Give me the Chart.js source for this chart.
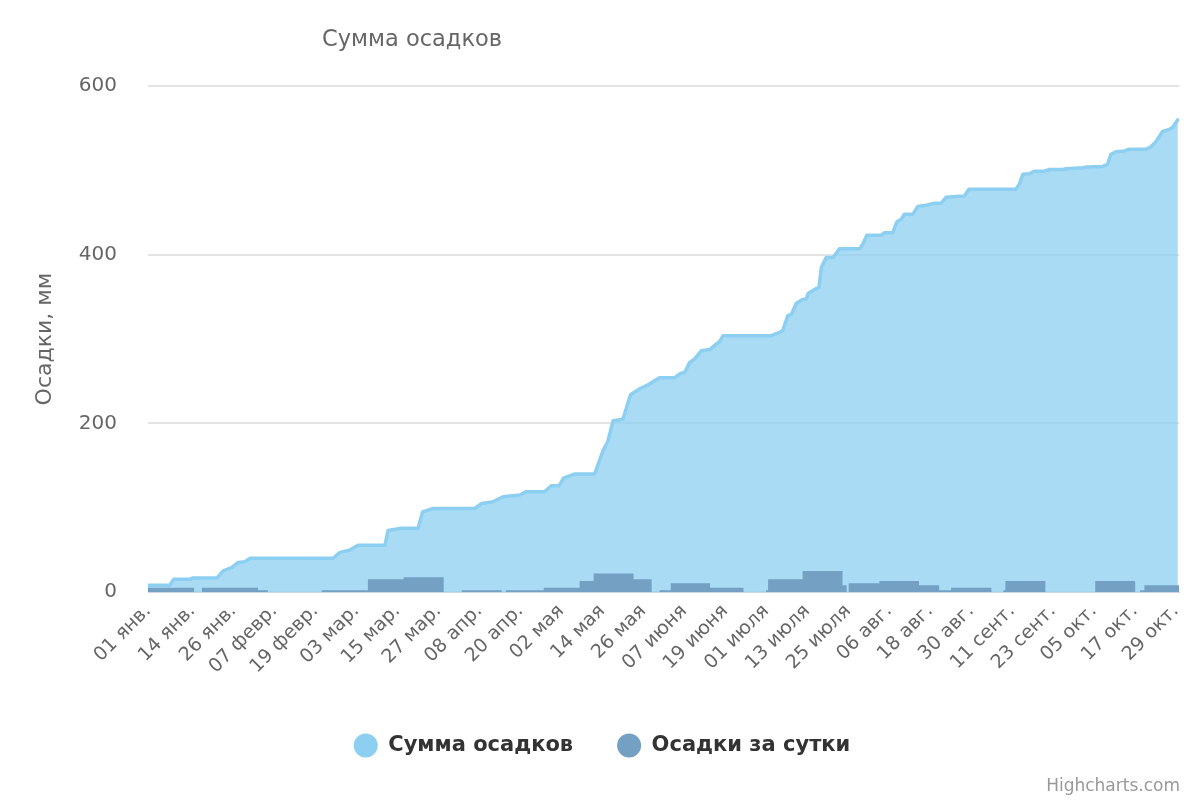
<!DOCTYPE html>
<html><head><meta charset="utf-8">
<script src="https://cdn.jsdelivr.net/npm/chart.js@4"></script>
<style>html,body{margin:0;padding:0;background:#fff}</style>
</head><body>
<canvas id="c" width="1200" height="800"></canvas>
<script>
const chartTitle = 'Сумма осадков';
const yAxisTitle = 'Осадки, мм';
const creditText = 'Highcharts.com';
const seriesNames = ['Сумма осадков', 'Осадки за сутки'];
const seriesColors = ['#8ccff0', '#73a0c3'];

// x axis: day of year (0 = 01 янв.)
const tickDays = [0,13,25,37,49,61,73,85,97,109,121,133,145,157,169,181,193,205,217,229,241,253,265,277,289,301];
const tickLabels = ['01 янв.','14 янв.','26 янв.','07 февр.','19 февр.','03 мар.','15 мар.','27 мар.','08 апр.','20 апр.','02 мая','14 мая','26 мая','07 июня','19 июня','01 июля','13 июля','25 июля','06 авг.','18 авг.','30 авг.','11 сент.','23 сент.','05 окт.','17 окт.','29 окт.'];
const yTicks = [0, 200, 400, 600];

// cumulative precipitation
const sumDays = [0,6.4,7.5,12.3,13,20.3,22,24.5,26.4,28.4,29.9,54.2,56.2,59,61.5,69.4,70.3,74.2,79.1,80.4,83.5,95.7,97.7,101,104,108.9,110.8,116.2,118.1,120.4,121.7,125,130.8,133.3,134.7,136.2,139.1,141.3,144,146.4,148.9,149.8,154.2,155.7,157.2,158.6,160.1,162,164.5,166.4,167.4,168.4,182.5,185,185.9,187.4,188.4,189.8,191.8,192.8,193.3,195.7,196.5,197.2,198.6,200.6,202.5,208.4,209.4,210.5,214.7,215.7,218.1,219.3,220.6,221.5,224,225.4,227.9,230.3,232.3,233.7,236.7,239.1,240.4,254.2,255.2,256.2,258.1,259.6,262.5,264,267.9,268.9,273.8,275.2,279.6,281,282,283.5,285.9,287.4,292.3,293.7,295.2,297.1,299.1,300.1,301.6];
const sumValues = [8,8,15,15,16.5,17,25,29,35,36,40,40,47,49.5,55.5,55.5,73,75.6,75.6,95,99,99,105,107,113,115,119,119,126,126,135,140,140,168,179,203,205,234,241,245.5,252,254,254,258.6,260.6,272,276.5,286,287.5,294,297,304,304,308,310,328,329,342,347,347.5,354,360,361,385,396.5,396.5,407,407,413,423,423,426,426,439,442,448,448,457,458.6,461,461,468,469,469.6,477.6,477.6,484,495.4,496,499,499,501,501,502,503,504,504.6,507,519,522,523,525,525,528,534,546,548.5,551,560];

// daily precipitation columns (start day, end day, mm)
const dailyStart  = [0,15.8,32.2,50.9,64.4,74.9,91.9,104.8,115.9,126.4,130.5,142.2,149.8,153.1,164.6,181,181.6,191.7,203.4,205.2,214.2,225.8,231.7,235.2,250.5,251.1,277.4,290.5,291.8];
const dailyEnd    = [13.5,32.2,35.1,64.4,74.9,86.6,103.6,115.9,126.4,130.5,142.2,147.5,153.1,164.6,174.4,181.6,191.7,203.4,204.6,214.2,225.8,231.7,235.2,247,251.1,262.8,289.1,291.8,302];
const dailyValues = [5,5,2,2,15,17.5,2,2,5,13,22,15,2,10.5,5,2,15,25,8,10.5,13,8,2,5,2,13,13,2,8];

const FONT = '"DejaVu Sans", "Noto Sans", sans-serif';

const sumData = sumDays.map((d, i) => ({x: d, y: sumValues[i]}));
const dailyData = [];
dailyStart.forEach((s, i) => {
  dailyData.push({x: s, y: dailyValues[i]});
  const next = dailyStart[i + 1];
  if (next === undefined || next > dailyEnd[i] + 0.01) dailyData.push({x: dailyEnd[i], y: 0});
});

const decor = {
  id: 'decor',
  afterLayout(chart) {
    if (chart.legend) { chart.legend.left += 12; chart.legend.right += 12; }
  },
  afterDraw(chart) {
    const ctx = chart.ctx;
    ctx.save();
    ctx.fillStyle = '#666666';
    ctx.font = '22.5px ' + FONT;
    ctx.textAlign = 'center';
    ctx.textBaseline = 'middle';
    ctx.fillText(chartTitle, 412, 40);
    ctx.fillStyle = '#999999';
    ctx.font = '17px ' + FONT;
    ctx.textAlign = 'right';
    ctx.textBaseline = 'alphabetic';
    ctx.fillText(creditText, 1180, 791);
    ctx.restore();
  }
};

new Chart(document.getElementById('c'), {
  type: 'line',
  data: {
    datasets: [
      {
        label: seriesNames[0], data: sumData, order: 1,
        borderColor: seriesColors[0], backgroundColor: 'rgba(140,207,240,0.75)',
        borderWidth: 3.5, borderJoinStyle: 'round', borderCapStyle: 'round',
        fill: 'origin', pointRadius: 0, tension: 0
      },
      {
        label: seriesNames[1], data: dailyData, order: 0, stepped: true,
        borderColor: seriesColors[1], backgroundColor: seriesColors[1],
        borderWidth: 0, fill: 'origin', pointRadius: 0
      }
    ]
  },
  options: {
    responsive: false, animation: false,
    layout: {padding: {top: 86, right: 20, bottom: 34, left: 0}},
    plugins: {
      tooltip: {enabled: false},
      title: {display: false},
      legend: {
        position: 'bottom',
        labels: {
          usePointStyle: true, pointStyle: 'circle', boxHeight: 17, pointStyleWidth: 24,
          padding: 44, color: '#333333', font: {family: FONT, size: 21, weight: 'bold'},
          sort: (a, b) => a.datasetIndex - b.datasetIndex,
          generateLabels(chart) {
            const items = Chart.defaults.plugins.legend.labels.generateLabels(chart);
            items.forEach(it => { it.fillStyle = seriesColors[it.datasetIndex]; it.strokeStyle = seriesColors[it.datasetIndex]; it.lineWidth = 0; });
            return items;
          }
        }
      }
    },
    scales: {
      x: {
        type: 'linear', min: 0, max: 302,
        afterFit(s) { s.height = 99; },
        afterBuildTicks(s) { s.ticks = tickDays.map(v => ({value: v})); },
        grid: {display: false, drawTicks: false},
        border: {display: true, color: '#ccd6eb', width: 1},
        ticks: {
          autoSkip: false, minRotation: 45, maxRotation: 45, padding: 8,
          color: '#666666', font: {family: FONT, size: 19},
          callback: (v, i) => tickLabels[i]
        }
      },
      y: {
        min: 0, max: 600,
        afterFit(s) { s.width = 148; },
        afterBuildTicks(s) { s.ticks = yTicks.map(v => ({value: v})); },
        grid: {color: '#e3e3e3', lineWidth: 2, drawTicks: false},
        border: {display: false},
        ticks: {padding: 31, color: '#666666', font: {family: FONT, size: 20}},
        title: {display: true, text: yAxisTitle, color: '#666666', font: {family: FONT, size: 22}, padding: {top: 32, bottom: 0}}
      }
    }
  },
  plugins: [decor]
});
</script>
</body></html>
